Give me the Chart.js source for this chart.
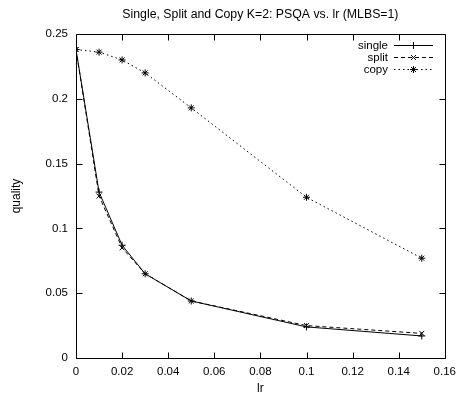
<!DOCTYPE html>
<html>
<head>
<meta charset="utf-8">
<script src="https://cdn.jsdelivr.net/npm/chart.js@4.4.0/dist/chart.umd.min.js"></script>
<style>
  html, body { margin: 0; padding: 0; background: #fff; }
</style>
</head>
<body>
<canvas id="chart" width="463" height="394"></canvas>
<script>
// Data
const lr = [0, 0.01, 0.02, 0.03, 0.05, 0.1, 0.15];
const single = [0.238, 0.128, 0.087, 0.065, 0.044, 0.024, 0.017];
const split = [0.238, 0.125, 0.085, 0.065, 0.044, 0.025, 0.019];
const copy = [0.238, 0.236, 0.230, 0.220, 0.193, 0.124, 0.077];
const xTicks = [0, 0.02, 0.04, 0.06, 0.08, 0.1, 0.12, 0.14, 0.16];
const yTicks = [0, 0.05, 0.1, 0.15, 0.2, 0.25];
const TITLE = 'Single, Split and Copy K=2: PSQA vs. lr (MLBS=1)';

const FONT = 'Liberation Sans, Arial, sans-serif';
const pts = ys => lr.map((x, i) => ({ x, y: ys[i] }));

// gnuplot-like frame with inward ticks, title over the plot, key top right
const framePlugin = {
  id: 'frame',
  afterDraw(chart) {
    const { ctx, chartArea: a, scales: { x, y } } = chart;
    ctx.save();
    ctx.strokeStyle = '#000';
    ctx.lineWidth = 1;
    ctx.setLineDash([]);
    ctx.beginPath();
    const L = Math.round(a.left) + 0.5, R = Math.round(a.right) + 0.5;
    const T = Math.round(a.top) + 0.5, B = Math.round(a.bottom) + 0.5;
    ctx.rect(L, T, R - L, B - T);
    xTicks.forEach(v => {
      const px = Math.round(x.getPixelForValue(v)) + 0.5;
      ctx.moveTo(px, B); ctx.lineTo(px, B - 6);
      ctx.moveTo(px, T); ctx.lineTo(px, T + 6);
    });
    yTicks.forEach(v => {
      const py = Math.round(y.getPixelForValue(v)) + 0.5;
      ctx.moveTo(L, py); ctx.lineTo(L + 6, py);
      ctx.moveTo(R, py); ctx.lineTo(R - 6, py);
    });
    ctx.stroke();

    ctx.fillStyle = '#000';
    ctx.textBaseline = 'middle';

    // title
    ctx.font = '12.3px ' + FONT;
    ctx.textAlign = 'center';
    ctx.fillText(TITLE, (a.left + a.right) / 2, 15);

    // key
    ctx.font = '11.5px ' + FONT;
    ctx.textAlign = 'right';
    chart.data.datasets.forEach((ds, i) => {
      const ly = Math.round(a.top + 11 + i * 12) + 0.5;
      ctx.fillText(ds.label, 388, ly);
      ctx.beginPath();
      ctx.setLineDash(ds.borderDash || []);
      ctx.moveTo(394, ly); ctx.lineTo(433, ly);
      ctx.stroke();
      ctx.setLineDash([]);
      Chart.helpers.drawPoint(ctx, { pointStyle: ds.pointStyle, rotation: 0, radius: 3.5, borderWidth: 1 }, 413.5, ly);
    });
    ctx.restore();
  }
};

const lineDs = (label, data, dash, style) => ({
  label,
  data: pts(data),
  showLine: true,
  borderColor: '#000',
  backgroundColor: '#000',
  borderWidth: 1,
  borderDash: dash,
  pointStyle: style,
  pointRadius: 3.5,
  pointBorderWidth: 1,
  pointBorderColor: '#000',
  tension: 0
});

new Chart(document.getElementById('chart'), {
  type: 'scatter',
  data: {
    datasets: [
      lineDs('single', single, [], 'cross'),
      lineDs('split', split, [4, 3], 'crossRot'),
      lineDs('copy', copy, [1.5, 3], 'star')
    ]
  },
  options: {
    responsive: false,
    animation: false,
    devicePixelRatio: 1,
    layout: { padding: { left: 0, right: 14, top: 34, bottom: 0 } },
    plugins: {
      legend: { display: false },
      tooltip: { enabled: false },
      title: { display: false }
    },
    scales: {
      x: {
        type: 'linear',
        min: 0, max: 0.16,
        afterBuildTicks: s => { s.ticks = xTicks.map(v => ({ value: v })); },
        afterFit: s => { s.height = 36; },
        grid: { display: false, drawTicks: false },
        border: { display: false },
        ticks: {
          color: '#000', padding: 7,
          font: { family: FONT, size: 11.5 },
          callback: v => String(parseFloat(v.toFixed(2)))
        },
        title: {
          display: true, text: 'lr', color: '#000',
          font: { family: FONT, size: 12 },
          padding: { top: 0, bottom: -2 }
        }
      },
      y: {
        type: 'linear',
        min: 0, max: 0.25,
        afterBuildTicks: s => { s.ticks = yTicks.map(v => ({ value: v })); },
        afterFit: s => { s.width = 76; },
        grid: { display: false, drawTicks: false },
        border: { display: false },
        ticks: {
          color: '#000', padding: 8,
          font: { family: FONT, size: 11.5 },
          callback: v => String(parseFloat(v.toFixed(2)))
        },
        title: {
          display: true, text: 'quality', color: '#000',
          font: { family: FONT, size: 12 },
          padding: { top: 9, bottom: 0 }
        }
      }
    }
  },
  plugins: [framePlugin]
});
</script>
</body>
</html>
